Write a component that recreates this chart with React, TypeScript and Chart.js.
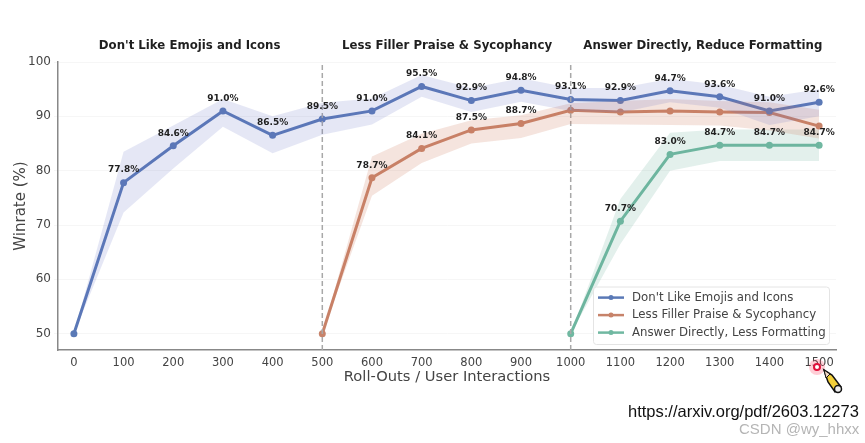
import { Chart, registerables } from "chart.js";
import { useEffect, useRef } from "react";

Chart.register(...registerables);

const blueX = [0, 100, 200, 300, 400, 500, 600, 700, 800, 900, 1000, 1100, 1200, 1300, 1400, 1500];
const blueY = [50, 77.8, 84.6, 91.0, 86.5, 89.5, 91.0, 95.5, 92.9, 94.8, 93.1, 92.9, 94.7, 93.6, 91.0, 92.6];
const blueHi = [50, 83.5, 88.3, 93.2, 90.0, 92.5, 93.3, 97.6, 95.2, 97.0, 95.2, 95.2, 96.9, 95.8, 93.6, 95.0];
const blueLo = [50, 72.3, 80.4, 88.1, 83.2, 86.6, 88.5, 93.6, 90.8, 92.7, 91.0, 90.7, 92.6, 91.6, 88.4, 90.0];

const orangeX = [500, 600, 700, 800, 900, 1000, 1100, 1200, 1300, 1400, 1500];
const orangeY = [50, 78.7, 84.1, 87.5, 88.7, 91.1, 90.8, 91.0, 90.8, 90.7, 88.2];
const orangeHi = [50, 82.6, 86.8, 89.3, 90.2, 92.4, 92.8, 93.2, 92.8, 92.6, 91.2];
const orangeLo = [50, 75.4, 81.4, 85.0, 86.0, 88.6, 88.5, 88.4, 88.3, 87.4, 85.9];

const greenX = [1000, 1100, 1200, 1300, 1400, 1500];
const greenY = [50, 70.7, 83.0, 84.7, 84.7, 84.7];
const greenHi = [50, 74.8, 87.0, 87.6, 87.6, 87.6];
const greenLo = [50, 66.5, 80.0, 81.8, 81.8, 81.8];

const blueLabelled = blueX.slice(1);
const orangeLabelled = [600, 700, 800, 900];
const greenLabelled = greenX.slice(1);

const yTicks = [50, 60, 70, 80, 90, 100];
const dividers = [500, 1000];
const headings = [
  { text: "Don't Like Emojis and Icons", x: 233 },
  { text: "Less Filler Praise & Sycophancy", x: 751 },
  { text: "Answer Directly, Reduce Formatting", x: 1266 },
];
const legendNames = ["Don't Like Emojis and Icons", "Less Filler Praise & Sycophancy", "Answer Directly, Less Formatting"];

const BLUE = "#5a79b6";
const ORANGE = "#c7836a";
const GREEN = "#70b8a1";
const FONT = "'DejaVu Sans'";

const pts = (xs: number[], ys: number[]) => xs.map((x, i) => ({ x, y: ys[i] }));

function band(xs: number[], hi: number[], lo: number[], color: string) {
  return [
    { data: pts(xs, hi), borderWidth: 0, pointRadius: 0, backgroundColor: color, fill: "+1", tension: 0 },
    { data: pts(xs, lo), borderWidth: 0, pointRadius: 0, backgroundColor: color, fill: false, tension: 0 },
  ];
}

function line(xs: number[], ys: number[], color: string, labelled: number[]) {
  return {
    data: pts(xs, ys),
    borderColor: color,
    backgroundColor: color,
    borderWidth: 3,
    pointRadius: 3.5,
    pointBorderWidth: 0,
    fill: false,
    tension: 0,
    labelled,
  };
}

const pointLabels = {
  id: "pointLabels",
  afterDatasetsDraw(chart: any) {
    const { ctx } = chart;
    ctx.save();
    ctx.font = `bold 9px ${FONT}`;
    ctx.fillStyle = "#1f1f1f";
    ctx.textAlign = "center";
    ctx.textBaseline = "middle";
    chart.data.datasets.forEach((ds: any, i: number) => {
      if (!ds.labelled) return;
      chart.getDatasetMeta(i).data.forEach((p: any, j: number) => {
        const v = ds.data[j];
        if (ds.labelled.includes(v.x)) ctx.fillText(v.y.toFixed(1) + "%", p.x, p.y - 12.5);
      });
    });
    ctx.restore();
  },
};

const headingsPlugin = {
  id: "headings",
  afterDraw(chart: any) {
    const { ctx, scales } = chart;
    ctx.save();
    ctx.font = `bold 11.75px ${FONT}`;
    ctx.fillStyle = "#1f1f1f";
    ctx.textAlign = "center";
    ctx.textBaseline = "middle";
    headings.forEach((h) => ctx.fillText(h.text, scales.x.getPixelForValue(h.x), 46));
    ctx.restore();
  },
};

const legendBox = {
  id: "legendBox",
  afterDraw(chart: any) {
    const { ctx } = chart;
    const colors = [BLUE, ORANGE, GREEN];
    ctx.save();
    ctx.fillStyle = "rgba(255,255,255,0.85)";
    ctx.strokeStyle = "#e4e4e4";
    ctx.lineWidth = 1;
    ctx.beginPath();
    ctx.roundRect(593.5, 287, 236, 57.5, 3);
    ctx.fill();
    ctx.stroke();
    ctx.font = `11.75px ${FONT}`;
    ctx.textBaseline = "middle";
    legendNames.forEach((name, i) => {
      const y = 297.6 + i * 17.5;
      ctx.strokeStyle = colors[i];
      ctx.fillStyle = colors[i];
      ctx.lineWidth = 2.5;
      ctx.beginPath();
      ctx.moveTo(598, y);
      ctx.lineTo(624, y);
      ctx.stroke();
      ctx.beginPath();
      ctx.arc(611, y, 2.5, 0, Math.PI * 2);
      ctx.fill();
      ctx.fillStyle = "#444";
      ctx.fillText(name, 632, y);
    });
    ctx.restore();
  },
};

export default function App() {
  const ref = useRef<HTMLCanvasElement>(null);

  useEffect(() => {
    if (!ref.current) return;
    const chart = new Chart(ref.current, {
      type: "line",
      data: {
        datasets: [
          ...band(blueX, blueHi, blueLo, "rgba(98,115,195,0.17)"),
          ...band(orangeX, orangeHi, orangeLo, "rgba(205,120,90,0.2)"),
          ...band(greenX, greenHi, greenLo, "rgba(100,170,150,0.18)"),
          ...dividers.map((x) => ({
            data: [{ x, y: 47 }, { x, y: 100 }],
            borderColor: "#a8a8a8",
            borderWidth: 1.5,
            borderDash: [5, 3],
            pointRadius: 0,
            fill: false,
          })),
          line(blueX, blueY, BLUE, blueLabelled),
          line(orangeX, orangeY, ORANGE, orangeLabelled),
          line(greenX, greenY, GREEN, greenLabelled),
        ] as any,
      },
      options: {
        responsive: false,
        animation: false,
        layout: { padding: { top: 62, right: 29, bottom: 56, left: 12 } },
        plugins: { legend: { display: false }, tooltip: { enabled: false } },
        scales: {
          x: {
            type: "linear",
            min: -32,
            max: 1534,
            afterBuildTicks: (axis: any) => {
              axis.ticks = blueX.map((value) => ({ value }));
            },
            ticks: { autoSkip: false, maxRotation: 0, color: "#444", font: { family: FONT, size: 11.5 }, padding: 2, callback: (v: any) => String(v) },
            grid: { display: false, tickLength: 4 },
            border: { color: "#888", width: 1.5 },
            title: { display: true, text: "Roll-Outs / User Interactions", color: "#444", font: { family: FONT, size: 14.7 }, padding: { top: 0, bottom: 1 } },
            afterFit: (axis: any) => {
              axis.height = 37;
            },
          },
          y: {
            min: 47,
            max: 100,
            afterBuildTicks: (axis: any) => {
              axis.ticks = yTicks.map((value) => ({ value }));
            },
            ticks: { color: "#444", font: { family: FONT, size: 12 }, padding: 3 },
            grid: { color: "#f6f6f6", tickLength: 4, drawTicks: true },
            border: { color: "#888", width: 1.5 },
            title: { display: true, text: "Winrate (%)", color: "#444", font: { family: FONT, size: 15 }, padding: { top: 0, bottom: 0 } },
            afterFit: (axis: any) => {
              axis.width = 46;
            },
          },
        },
      } as any,
      plugins: [pointLabels, headingsPlugin, legendBox],
    });
    return () => chart.destroy();
  }, []);

  return (
    <div style={{ position: "fixed", left: 0, top: 0, width: 865, height: 443, background: "#fff", overflow: "hidden" }}>
      <canvas ref={ref} width={865} height={443} style={{ display: "block", filter: "blur(0.4px)" }} />
      <div style={{ position: "absolute", left: 628, top: 402, font: "16.5px 'Liberation Sans'", color: "#111", whiteSpace: "nowrap" }}>
        https://arxiv.org/pdf/2603.12273
      </div>
      <div style={{ position: "absolute", left: 739, top: 420, font: "15px 'Liberation Sans'", color: "#b5b5b5", whiteSpace: "nowrap" }}>
        CSDN @wy_hhxx
      </div>
      <svg style={{ position: "absolute", left: 805, top: 355 }} width={40} height={42}>
        <circle cx={12} cy={12} r={8} fill="#ff3b5c" opacity={0.25} />
        <circle cx={12} cy={12} r={3} fill="#fff" stroke="#e0103a" strokeWidth={2} />
        <path d="M19 15 L27 20 L36 32 L30 37 L23 27 Z" fill="#f2cf3a" stroke="#111" strokeWidth={1.5} />
        <path d="M19 15 L25 19 L21 23 Z" fill="#f3d9c4" stroke="#111" strokeWidth={1} />
        <circle cx={33} cy={34} r={3.5} fill="#eee" stroke="#111" strokeWidth={1.5} />
      </svg>
    </div>
  );
}
